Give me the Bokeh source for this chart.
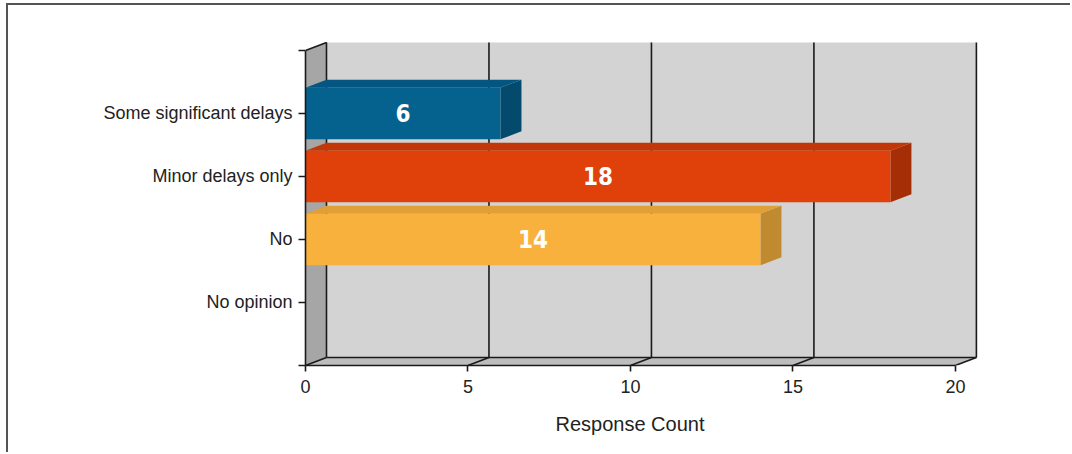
from bokeh.plotting import figure
from bokeh.models import FixedTicker, Range1d, Title
from bokeh.core.properties import value
from bokeh.embed import file_html
from bokeh.resources import INLINE

# ---- data ----
categories = ["Some significant delays", "Minor delays only", "No", "No opinion"]
counts = [6, 18, 14, 0]
x_ticks = [0, 5, 10, 15, 20]
x_title = "Response Count"

# ---- styles ----
front_colors = ["#05628f", "#e0400a", "#f9b13d", "#6aa84f"]
top_colors = ["#045680", "#c23708", "#e09f37", "#5a9043"]
side_colors = ["#034a6c", "#a62e06", "#bf8a30", "#4a7838"]

X_MAX = x_ticks[-1]
N = len(categories)
Y_MAX = N + 1
DX, DY = 0.646, 0.127   # 3D depth offset in data units
BAR_H = 0.82
FONT = "Liberation Sans"

p = figure(width=1064, height=449,
           x_range=Range1d(0, 21.08), y_range=Range1d(0, 5.19),
           output_backend="svg", toolbar_location=None,
           min_border_left=297, min_border_top=33,
           min_border_right=82, min_border_bottom=89)
p.styles = {"border-left": "2px solid #555555", "border-top": "2px solid #555555",
            "margin-left": "6px", "margin-top": "3px"}
p.outline_line_color = None
p.xgrid.visible = False
p.ygrid.visible = False
p.background_fill_color = "white"
p.border_fill_color = "white"

# ---- walls ----
p.quad(left=[DX], right=[X_MAX + DX], bottom=[DY], top=[Y_MAX + DY],
       fill_color="#d3d3d3", line_color=None)
p.patch(x=[0, DX, DX, 0], y=[0, DY, Y_MAX + DY, Y_MAX],
        fill_color="#a6a6a6", line_color=None)
p.patch(x=[0, X_MAX, X_MAX + DX, DX], y=[0, 0, DY, DY],
        fill_color="#bdbdbd", line_color=None)

xs, ys = [], []
for t in x_ticks:
    xs.append([t + DX, t + DX]); ys.append([DY, Y_MAX + DY])
    xs.append([t, t + DX]); ys.append([0, DY])
xs.append([DX, X_MAX + DX]); ys.append([DY, DY])
xs.append([0, DX]); ys.append([Y_MAX, Y_MAX + DY])
p.multi_line(xs=xs, ys=ys, line_color="#1a1a1a", line_width=1.6)

# ---- bars ----
for i, (cat, v) in enumerate(zip(categories, counts)):
    if v <= 0:
        continue
    yc = N - i
    b, t = yc - BAR_H / 2, yc + BAR_H / 2
    p.patch(x=[v, v + DX, v + DX, v], y=[b, b + DY, t + DY, t],
            fill_color=side_colors[i], line_color=None)
    p.patch(x=[0, v, v + DX, DX], y=[t, t, t + DY, t + DY],
            fill_color=top_colors[i], line_color=None)
    p.quad(left=[0], right=[v], bottom=[b], top=[t],
           fill_color=front_colors[i], line_color=None)
    p.text(x=[v / 2], y=[yc], text=[str(v)], text_align="center",
           text_baseline="middle", text_color="white",
           text_font=value("DejaVu Sans Condensed"), text_font_style="bold",
           text_font_size="24px")

# ---- axes ----
xa = p.xaxis[0]
xa.ticker = FixedTicker(ticks=x_ticks)
xa.bounds = (0, X_MAX)
xa.axis_line_color = "#1a1a1a"
xa.axis_line_width = 1.6
xa.major_tick_line_color = "#1a1a1a"
xa.major_tick_line_width = 1.6
xa.major_tick_out = 6
xa.major_tick_in = 0
xa.minor_tick_line_color = None
xa.major_label_text_font = FONT
xa.major_label_text_font_size = "18px"
xa.major_label_text_color = "#222222"
xa.major_label_standoff = 8

# axis title, centred under the 0..X_MAX span of the value axis
p.add_layout(Title(text=x_title, align="left", offset=250, standoff=31,
                   text_font=FONT, text_font_size="20px",
                   text_font_style="normal", text_color="#222222"), "below")

ya = p.yaxis[0]
ya.ticker = FixedTicker(ticks=list(range(0, Y_MAX + 1)))
overrides = {0: "", Y_MAX: ""}
for i, cat in enumerate(categories):
    overrides[N - i] = cat
ya.major_label_overrides = overrides
ya.bounds = (0, Y_MAX)
ya.axis_line_color = "#1a1a1a"
ya.axis_line_width = 1.6
ya.major_tick_line_color = "#1a1a1a"
ya.major_tick_line_width = 1.6
ya.major_tick_out = 7
ya.major_tick_in = 0
ya.minor_tick_line_color = None
ya.major_label_text_font = FONT
ya.major_label_text_font_size = "18px"
ya.major_label_text_color = "#222222"
ya.major_label_standoff = 6

open("out.html", "w").write(file_html(p, INLINE))
